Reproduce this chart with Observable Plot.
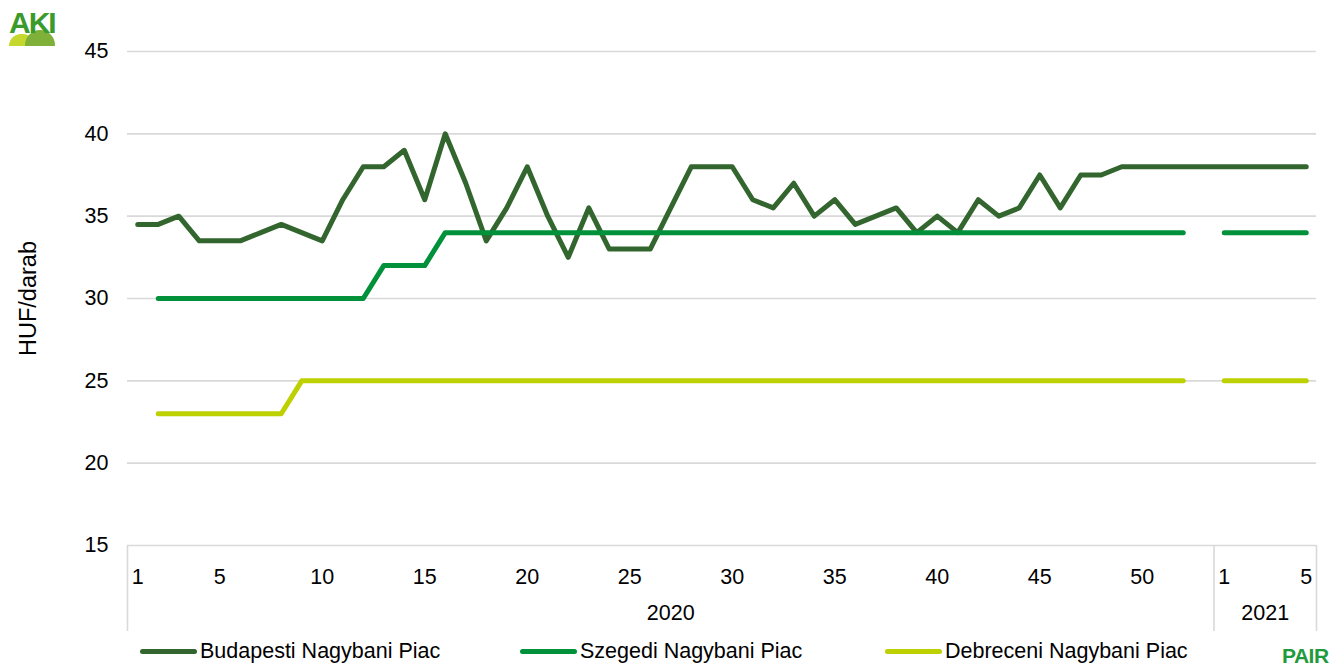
<!DOCTYPE html>
<html>
<head>
<meta charset="utf-8">
<script src="https://cdn.jsdelivr.net/npm/d3@7"></script>
<script src="https://cdn.jsdelivr.net/npm/@observablehq/plot@0.6"></script>
<style>
  html, body { margin: 0; padding: 0; background: #fff; }
  body { width: 1338px; height: 666px; position: relative; overflow: hidden; font-family: "Liberation Sans", Arial, sans-serif; }
  #chart svg { display: block; }
  #legend { position: relative; height: 32px; width: 1338px; }
  .item { position: absolute; top: 1px; height: 32px; display: flex; align-items: center; font-size: 21.5px; color: #000; }
  .sw { width: 57px; height: 5px; border-radius: 3px; margin-right: 3px; }
  #aki { position: absolute; left: 9px; top: 8px; font: bold 30px "Liberation Sans", Arial, sans-serif; color: #3a9b2c; letter-spacing: -2px; line-height: 30px; }
  #aki .hill1 { position:absolute; left: 0px; top: 26px; width: 26px; height: 12px; border-radius: 13px 13px 0 0; background: #c5d82e; }
  #aki .hill2 { position:absolute; left: 16px; top: 22px; width: 30px; height: 16px; border-radius: 15px 15px 0 0; background: #7fb03a; }
  #pair { position: absolute; left: 1282px; top: 644px; font: bold 21px "Liberation Sans", Arial, sans-serif; color: #1f9a3c; letter-spacing: -0.5px; }
</style>
</head>
<body>
<div id="chart"></div>
<div id="legend"></div>
<div id="aki"><div class="hill1"></div><div class="hill2"></div><span style="position:relative">AKI</span></div>
<div id="pair">PAIR</div>
<script>
// --- data ---
const years = ["2020", "2021"];
const weeks2020 = [1,2,3,4,5,6,7,8,9,10,11,12,13,14,15,16,17,18,19,20,21,22,23,24,25,26,27,28,29,30,31,32,33,34,35,36,37,38,39,40,41,42,43,44,45,46,47,48,49,50,51,52,53];
const weeks2021 = [1,2,3,4,5];
const tickWeeks = [1,5,10,15,20,25,30,35,40,45,50];
const seriesNames = ["Budapesti Nagybani Piac", "Szegedi Nagybani Piac", "Debreceni Nagybani Piac"];
const seriesColors = ["#33662e", "#00913a", "#bdd000"];
const yTicks = [15,20,25,30,35,40,45];

const budapest = [
  34.5,34.5,35,33.5,33.5,33.5,34,34.5,34,33.5,
  36,38,38,39,36,40,37,33.5,35.5,38,
  35,32.5,35.5,33,33,33,35.5,38,38,38,
  36,35.5,37,35,36,34.5,35,35.5,34,35,
  34,36,35,35.5,37.5,35.5,37.5,37.5,38,38,
  38,38,38,
  38,38,38,38,38
];
const szeged = [
  null,30,30,30,30,30,30,30,30,30,
  30,30,32,32,32,34,34,34,34,34,
  34,34,34,34,34,34,34,34,34,34,
  34,34,34,34,34,34,34,34,34,34,
  34,34,34,34,34,34,34,34,34,34,
  34,34,null,
  34,34,34,34,34
];
const debrecen = [
  null,23,23,23,23,23,23,23,25,25,
  25,25,25,25,25,25,25,25,25,25,
  25,25,25,25,25,25,25,25,25,25,
  25,25,25,25,25,25,25,25,25,25,
  25,25,25,25,25,25,25,25,25,25,
  25,25,null,
  25,25,25,25,25
];

// --- build table ---
const pad = n => String(n).padStart(2, "0");
const keys = [
  ...weeks2020.map(w => `2020-${pad(w)}`),
  ...weeks2021.map(w => `2021-${pad(w)}`)
];
const seriesValues = [budapest, szeged, debrecen];
const rows = [];
seriesNames.forEach((name, si) => {
  keys.forEach((k, i) => rows.push({key: k, series: name, value: seriesValues[si][i]}));
});

const width = 1338, height = 634;
const marginLeft = 127, marginRight = 22, marginTop = 51, marginBottom = 89;
const step = (width - marginLeft - marginRight) / keys.length;

const weekTickKeys = [
  ...tickWeeks.map(w => `2020-${pad(w)}`),
  `2021-${pad(weeks2021[0])}`, `2021-${pad(weeks2021[weeks2021.length-1])}`
];
const yearMidKeys = [
  `2020-${pad(weeks2020[Math.floor(weeks2020.length/2)])}`,
  `2021-${pad(weeks2021[Math.floor(weeks2021.length/2)])}`
];

const chart = Plot.plot({
  width, height, marginLeft, marginRight, marginTop, marginBottom,
  style: {fontFamily: "'Liberation Sans', Arial, sans-serif", color: "#000", background: "#fff"},
  x: {type: "point", domain: keys, padding: 0.5, round: false, axis: null},
  y: {domain: [15, 45], axis: null},
  color: {domain: seriesNames, range: seriesColors},
  marks: [
    Plot.gridY(yTicks, {stroke: "#d9d9d9", strokeOpacity: 1, strokeWidth: 1.6}),
    Plot.axisY({ticks: yTicks, tickSize: 0, tickPadding: 19, fontSize: 21.5, label: null}),
    Plot.axisY({ticks: [], tickSize: 0, fontSize: 23.5, label: "HUF/darab", labelAnchor: "center", labelOffset: 108, labelArrow: "none"}),
    // separators of the two-level category axis
    Plot.axisX({ticks: [keys[0], `2021-${pad(weeks2021[0])}`], tickFormat: () => "", tickSize: 86, dx: -step/2, stroke: "#d9d9d9", strokeWidth: 1.6, strokeOpacity: 1, label: null}),
    Plot.axisX({ticks: [keys[keys.length-1]], tickFormat: () => "", tickSize: 86, dx: step/2, stroke: "#d9d9d9", strokeWidth: 1.6, strokeOpacity: 1, label: null}),
    Plot.axisX({ticks: weekTickKeys, tickFormat: k => String(+k.slice(5)), tickSize: 0, tickPadding: 23, fontSize: 21.5, label: null}),
    Plot.axisX({ticks: yearMidKeys, tickFormat: k => k.slice(0, 4), tickSize: 0, tickPadding: 59, fontSize: 21.5, label: null}),
    Plot.line(rows, {x: "key", y: "value", z: "series", stroke: "series", strokeWidth: 5, strokeLinecap: "round", strokeLinejoin: "round"})
  ]
});
document.getElementById("chart").appendChild(chart);

// legend
const legend = document.getElementById("legend");
const lefts = [140, 520, 885];
seriesNames.forEach((name, i) => {
  const it = document.createElement("div");
  it.className = "item";
  it.style.left = lefts[i] + "px";
  const sw = document.createElement("div");
  sw.className = "sw";
  sw.style.background = seriesColors[i];
  it.appendChild(sw);
  it.appendChild(document.createTextNode(name));
  legend.appendChild(it);
});
</script>
</body>
</html>
